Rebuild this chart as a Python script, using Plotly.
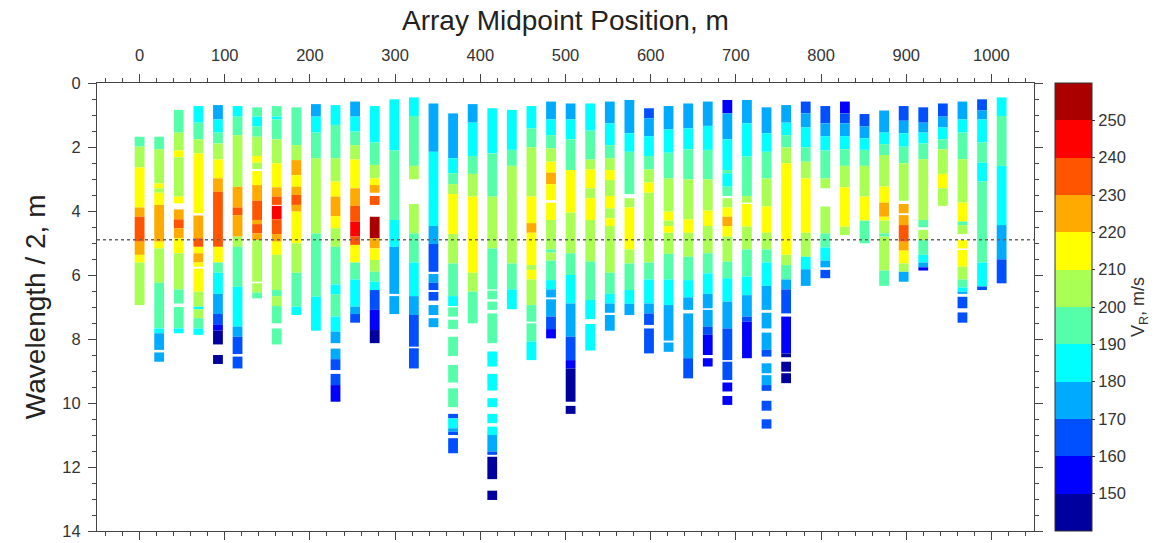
import plotly.graph_objects as go

# Array midpoint positions (m)
positions = [0, 23, 46, 69, 92, 115, 138, 161, 184, 207, 230, 253, 276, 299, 322,
             345, 368, 391, 414, 437, 460, 483, 506, 529, 552, 575, 598, 621, 644,
             667, 690, 713, 736, 759, 782, 805, 828, 851, 874, 897, 920, 943, 966,
             989, 1012]

# Depth boundaries (wavelength/2, m) of each column's cells
depth_bounds = [
    [1.68, 1.99, 2.64, 3.89, 4.18, 4.96, 5.37, 5.61, 6.94],
    [1.68, 2.07, 3.14, 3.29, 3.43, 3.81, 4.96, 5.17, 6.24, 7.67, 7.82, 8.34, 8.42, 8.71],
    [0.84, 1.55, 2.11, 2.32, 3.55, 3.76, 3.95, 4.26, 4.54, 4.85, 5.32, 6.45, 6.89, 7.0, 7.67, 7.82],
    [0.72, 1.24, 1.76, 2.2, 4.07, 4.14, 4.85, 5.12, 5.32, 5.61, 5.74, 5.8, 6.52, 6.99, 7.07, 7.35, 7.67, 7.87],
    [0.69, 1.14, 1.55, 1.89, 2.39, 2.98, 3.4, 5.12, 5.61, 5.93, 6.59, 7.22, 7.56, 7.74, 8.17, 8.5, 8.78],
    [0.72, 1.05, 1.63, 3.24, 3.89, 4.13, 4.8, 5.12, 6.37, 7.61, 7.93, 8.47, 8.55, 8.92],
    [0.76, 1.05, 1.36, 1.68, 2.28, 2.49, 2.69, 2.75, 3.19, 3.68, 4.28, 4.41, 4.7, 4.91, 6.21, 6.26, 6.55, 6.73],
    [0.72, 1.05, 1.14, 1.76, 2.51, 3.26, 3.55, 3.81, 3.84, 4.26, 4.72, 4.96, 5.37, 6.47, 6.66, 6.97, 7.51, 7.67, 8.17],
    [0.76, 1.94, 2.41, 2.88, 3.24, 3.5, 3.81, 4.02, 5.01, 5.93, 6.99, 7.25],
    [0.66, 1.05, 1.55, 2.35, 4.7, 6.68, 7.74],
    [0.69, 1.31, 2.35, 3.08, 3.55, 4.16, 4.54, 5.12, 6.3, 6.6, 7.3, 7.77, 8.13, 8.3, 8.63, 8.97, 9.09, 9.44, 9.96],
    [0.58, 1.05, 1.52, 1.94, 2.39, 3.29, 3.84, 4.33, 4.8, 5.06, 5.61, 6.14, 6.99, 7.22, 7.49],
    [0.72, 1.86, 2.56, 2.98, 3.19, 3.43, 3.53, 3.81, 4.18, 4.85, 5.17, 5.53, 5.9, 6.21, 6.47, 7.09, 7.72, 8.13],
    [0.51, 2.11, 4.28, 5.12, 6.59, 6.66, 7.22],
    [0.45, 1.03, 2.59, 3.01, 3.78, 4.7, 5.61, 6.66, 7.25, 8.24, 8.29, 8.92],
    [0.64, 2.15, 4.47, 5.03, 5.9, 5.97, 6.24, 6.47, 6.53, 6.8, 6.94, 7.25, 7.35, 7.63],
    [0.95, 2.35, 2.82, 3.16, 3.47, 4.72, 5.64, 6.66, 6.97, 7.01, 7.3, 7.4, 7.69, 7.93, 8.53, 8.81, 9.36,
     9.54, 10.13, 10.34, 10.48, 10.79, 10.9, 11.0, 11.1, 11.57],
    [0.66, 1.24, 2.28, 2.84, 3.55, 5.93, 6.52, 7.51],
    [0.79, 2.2, 3.55, 5.17, 6.45, 6.49, 6.76, 6.83, 7.09, 7.2, 8.13, 8.39, 8.86, 9.09, 9.61, 9.85, 10.13,
     10.34, 10.63, 10.74, 11.0, 11.52, 11.62, 11.68, 12.38, 12.74, 13.03],
    [0.84, 2.09, 2.59, 5.64, 6.45, 7.07],
    [0.72, 1.42, 2.01, 3.55, 4.38, 4.68, 5.69, 5.84, 6.14, 6.94, 7.46, 7.51, 8.08, 8.66],
    [0.58, 1.14, 1.63, 2.04, 2.46, 2.8, 3.16, 3.66, 3.74, 4.28, 5.2, 5.3, 5.55, 6.16, 6.45, 6.7, 6.76, 7.3, 7.69, 7.98],
    [0.64, 1.14, 1.76, 2.72, 4.05, 5.32, 6.0, 6.89, 7.93, 8.66, 8.92, 9.96, 10.09, 10.34],
    [0.64, 1.49, 2.39, 2.7, 3.29, 3.6, 4.28, 5.58, 6.78, 7.38, 7.53, 8.36],
    [0.58, 1.26, 1.94, 2.35, 2.72, 3.03, 3.53, 3.92, 4.23, 4.47, 5.93, 6.59, 6.89, 7.18, 7.25, 7.74],
    [0.53, 1.57, 2.15, 3.47, 3.6, 3.89, 5.2, 5.64, 6.47, 6.9, 7.25],
    [0.79, 1.1, 1.66, 2.28, 2.7, 3.11, 3.43, 5.61, 6.14, 6.89, 7.2, 7.56, 7.67, 8.45],
    [0.72, 1.45, 2.18, 2.98, 4.02, 4.3, 4.47, 4.68, 5.34, 6.14, 6.94, 8.05, 8.11, 8.4],
    [0.64, 1.42, 2.07, 3.01, 4.26, 4.68, 5.43, 6.16, 6.7, 7.09, 7.2, 8.6, 9.23],
    [0.58, 1.34, 2.09, 3.01, 3.99, 4.47, 5.32, 5.95, 6.59, 7.04, 7.09, 7.61, 7.87, 8.5, 8.6, 8.86],
    [0.53, 0.95, 1.76, 2.72, 2.82, 3.24, 3.53, 3.6, 3.89, 4.18, 4.47, 4.8, 5.58, 6.1, 6.83, 7.67, 8.66,
     8.71, 9.28, 9.36, 9.64, 9.78, 10.06],
    [0.53, 1.26, 2.3, 3.53, 3.74, 3.78, 4.49, 5.2, 6.05, 6.63, 7.3, 7.46, 8.6],
    [0.76, 1.57, 2.15, 2.98, 3.86, 4.68, 5.2, 5.61, 6.34, 7.09, 7.18, 7.67, 7.8, 8.34, 8.55, 8.76, 9.07,
     9.13, 9.44, 9.62, 9.93, 10.24, 10.51, 10.8],
    [0.69, 1.24, 1.63, 2.01, 2.51, 5.37, 5.69, 6.14, 6.45, 7.2, 7.3, 8.45, 8.57, 8.71, 9.02, 9.07, 9.38],
    [0.58, 0.95, 1.39, 2.01, 2.46, 2.98, 4.68, 5.43, 5.82, 6.34],
    [0.72, 1.26, 1.66, 2.11, 2.98, 3.29, 3.86, 4.7, 5.14, 5.55, 5.76, 5.84, 6.1],
    [0.58, 0.95, 1.26, 1.66, 2.07, 2.59, 3.26, 4.49, 4.75],
    [0.97, 1.36, 1.73, 2.09, 2.59, 3.55, 4.3, 5.01],
    [0.86, 1.55, 1.91, 2.25, 3.24, 3.74, 4.18, 4.3, 4.7, 4.8, 5.86, 6.34],
    [0.72, 1.18, 1.57, 1.99, 2.51, 3.68, 3.78, 4.07, 4.13, 4.44, 4.96, 5.24, 5.64, 5.9, 6.21],
    [0.76, 1.24, 1.55, 1.89, 2.38, 4.28, 4.51, 4.59, 4.91, 5.37, 5.61, 5.76, 5.86],
    [0.64, 1.05, 1.39, 1.76, 2.07, 2.84, 3.29, 3.84],
    [0.58, 1.14, 1.55, 2.38, 3.74, 4.33, 4.44, 4.72, 4.91, 5.17, 5.22, 5.74, 6.14, 6.39, 6.52, 6.59, 6.68, 7.04, 7.17, 7.49],
    [0.51, 0.86, 1.14, 1.86, 2.49, 3.08, 5.61, 6.36, 6.47],
    [0.45, 1.03, 2.59, 4.44, 5.51, 6.26],
]

# Rayleigh-wave velocity of each cell (m/s); None = no data (gap)
velocities = [
    [195, 205, 215, 225, 235, 225, 215, 205],
    [195, 205, 215, 205, 215, 225, 215, 205, 195, 185, 175, None, 175],
    [195, 205, 215, 205, 215, None, 225, 235, 225, 215, 205, 195, None, 195, 185],
    [185, 195, 205, 215, None, 225, 235, 215, 225, 215, None, 215, 205, 185, 205, 195, 185],
    [175, 185, 195, 205, 215, 225, 235, 215, 195, 185, 175, 165, 155, 145, None, 145],
    [185, 195, 205, 225, 235, 225, 205, 195, 185, 175, 165, None, 165],
    [195, 185, 195, 205, 215, 205, None, 215, 225, 235, 225, 235, 225, 205, None, 205, 195],
    [195, 185, 195, 205, 215, 225, 235, None, 245, 235, 225, 215, 205, 195, 205, 195, None, 195],
    [195, 205, 225, 215, 225, 235, 225, 215, 205, 195, 185],
    [175, 185, 195, 205, 195, 185],
    [185, 195, 205, 215, 225, 215, 205, 195, 185, 195, 185, 175, None, 175, 165, None, 165, 155],
    [175, 185, 195, 205, 215, 225, 235, 245, 235, 215, 195, 185, 175, 165],
    [185, 195, 205, 215, 225, None, 235, None, 255, 225, 215, 205, 195, 185, 165, 155, 145],
    [185, 195, 185, 175, None, 175],
    [185, 195, 205, None, 205, 195, 185, 175, 165, None, 165],
    [175, 185, 175, 165, None, 175, 165, None, 165, None, 175, None, 175],
    [175, 185, 195, 205, 215, 205, 195, 185, None, 195, None, 195, None, 195, None, 195, None, 195,
     None, 165, 185, 175, 165, None, 165],
    [175, 185, 195, 205, 215, 205, 195],
    [185, 195, 205, 195, None, 195, None, 195, None, 195, None, 185, None, 185, None, 185, None, 185,
     None, 185, 175, 165, None, 145, None, 145],
    [185, 195, 205, 195, 185],
    [185, 195, 205, 215, 225, 215, 205, 215, 205, 195, None, 195, 185],
    [175, 185, 195, 205, 215, 225, 215, None, 215, 205, 195, 205, 195, 185, 175, None, 175, 165, 155],
    [175, 185, 195, 215, 205, 195, 185, 175, 165, 155, 145, None, 145],
    [185, 195, 205, 215, 205, 215, 205, 195, 185, None, 185],
    [175, 185, 195, 205, 215, 205, 215, 205, 215, 205, 195, 185, 175, None, 175],
    [175, 185, 195, None, 205, 215, 205, 195, 185, 175],
    [165, 175, 185, 195, 205, 215, 205, 195, 185, 175, 165, None, 165],
    [175, 185, 195, 205, 215, 205, 215, 205, 195, 185, 175, None, 175],
    [175, 185, 195, 205, 215, 205, 195, 185, 175, None, 175, 165],
    [175, 185, 195, 205, 215, 205, 195, 185, 175, None, 175, 165, 155, None, 155],
    [155, 175, 185, 195, 185, 195, None, 205, 215, 225, 215, 205, 195, 185, 175, 165, None, 165,
     None, 155, None, 155],
    [175, 185, 195, 205, None, 215, 205, 195, 185, 175, 165, 155],
    [175, 185, 195, 205, 215, 205, 195, 185, 175, None, 175, None, 175, 165, None, 175, None, 175,
     165, None, 165, None, 165],
    [175, 185, 195, 205, 215, 205, 195, 175, 165, None, 155, 145, None, 145, None, 145],
    [165, 175, 185, 195, 205, 215, 205, 185, 175],
    [165, 175, 185, 195, 205, None, 205, 195, 185, 175, None, 165],
    [155, 165, 175, 185, 195, 205, 215, 205],
    [165, 175, 185, 195, 205, 215, 195],
    [175, 185, 195, 205, 215, 225, 215, 205, 195, 205, 195],
    [165, 175, 185, 195, 205, None, 225, None, 225, 235, 225, 215, 205, 175],
    [165, 175, 185, 195, 205, 195, None, 205, 195, 185, 175, 155],
    [165, 175, 185, 195, 205, 215, 205],
    [175, 185, 195, 205, 215, 195, 205, None, 215, None, 215, 205, 195, 185, 175, None, 165, None, 165],
    [165, 175, 185, 195, 185, 195, 185, 165],
    [185, 195, 185, 175, 165],
]

colorbar_ticks = [150, 160, 170, 180, 190, 200, 210, 220, 230, 240, 250]
jet12 = ["#00009E", "#0000FF", "#0050FF", "#00AAFF", "#00FFFF", "#55FFAA",
         "#AAFF55", "#FFFF00", "#FFAA00", "#FF5500", "#FF0000", "#AA0000"]
ref_depth = 4.9

# ---- build bar cells ----
xs, bases, heights, cols = [], [], [], []
for pos, bnds, vels in zip(positions, depth_bounds, velocities):
    for i, v in enumerate(vels):
        if v is None:
            continue
        xs.append(pos)
        bases.append(bnds[i])
        heights.append(bnds[i + 1] - bnds[i])
        cols.append(v)

scale = []
n = len(jet12)
for i, c in enumerate(jet12):
    scale.append([i / n, c])
    scale.append([(i + 1) / n, c])

FONT = "Liberation Sans, Arial, sans-serif"

fig = go.Figure()
fig.add_trace(go.Bar(
    x=xs, y=heights, base=bases, width=11.5,
    marker=dict(
        color=cols, colorscale=scale, cmin=140, cmax=260,
        line=dict(width=0),
        showscale=True,
        colorbar=dict(
            x=1.0224, xanchor="left", xref="paper", xpad=0, ypad=0,
            y=0.5, yanchor="middle", len=1.0, lenmode="fraction",
            thickness=37, outlinewidth=1, outlinecolor="#333",
            tickvals=colorbar_ticks, ticks="outside", ticklen=3,
            tickcolor="#333",
            tickfont=dict(family=FONT, size=16.5, color="#333"),
            title=dict(text="V<sub>R</sub>, m/s", side="right",
                       font=dict(family=FONT, size=18, color="#333")),
        ),
    ),
    hovertemplate="x=%{x} m<br>depth=%{base:.2f} m<br>V=%{marker.color} m/s<extra></extra>",
))

fig.add_shape(type="line", xref="paper", x0=0, x1=1, yref="y", y0=ref_depth, y1=ref_depth,
              line=dict(color="#666", width=1.5, dash="dot"))

# axis titles placed as annotations for precise positioning
fig.add_annotation(text="Array Midpoint Position, m", xref="paper", yref="paper",
                   x=0.5, y=1.1406, xanchor="center", yanchor="middle", showarrow=False,
                   font=dict(family=FONT, size=28, color="#222"))
fig.add_annotation(text="Wavelength / 2, m", xref="paper", yref="paper",
                   x=-0.066, y=0.5, xanchor="center", yanchor="middle", showarrow=False,
                   textangle=-90, font=dict(family=FONT, size=28, color="#222"))

axis_font = dict(family=FONT, size=16.5, color="#333")
fig.update_layout(
    width=1176, height=543,
    margin=dict(l=97, r=142, t=83, b=12, autoexpand=False),
    paper_bgcolor="white", plot_bgcolor="white",
    barmode="overlay", showlegend=False,
    font=dict(family=FONT),
    xaxis=dict(
        side="top", range=[-50, 1050], tickvals=list(range(0, 1001, 100)),
        ticks="outside", ticklen=8, tickcolor="#444", tickwidth=1,
        minor=dict(dtick=20, tick0=0, ticks="outside", ticklen=4, tickcolor="#444"),
        showline=True, linecolor="#444", linewidth=1, mirror="ticks",
        showgrid=False, zeroline=False, tickfont=axis_font, automargin=False,
        ticklabelstandoff=6,
    ),
    yaxis=dict(
        range=[14, 0], tickvals=list(range(0, 15, 2)),
        ticks="outside", ticklen=8, tickcolor="#444", tickwidth=1,
        minor=dict(dtick=0.5, tick0=0, ticks="outside", ticklen=4, tickcolor="#444"),
        showline=True, linecolor="#444", linewidth=1, mirror="ticks",
        showgrid=False, zeroline=False, tickfont=axis_font, automargin=False,
        ticklabelstandoff=4,
    ),
)

fig.write_html("out.html", config={"displayModeBar": False},
               post_script="document.body.style.margin='0';document.body.style.overflow='hidden';")
